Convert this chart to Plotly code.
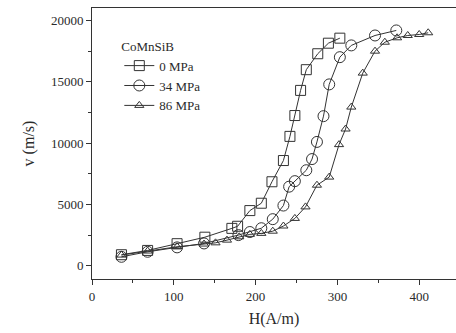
import plotly.graph_objects as go

# 0 MPa (squares)
h0 = [36, 68, 104, 138, 171, 178, 193, 207, 220, 234, 242, 248, 255, 262, 276, 289, 303]
v0 = [900, 1250, 1800, 2330, 3050, 3220, 4500, 5100, 6850, 8580, 10550, 12250, 14300, 15990, 17290, 18150, 18560]

# 34 MPa (circles)
h34 = [36, 68, 104, 137, 179, 193, 207, 221, 234, 241, 248, 262, 269, 275, 283, 290, 303, 317, 346, 372]
v34 = [730, 1140, 1500, 1820, 2500, 2750, 3060, 3800, 4910, 6450, 6900, 7790, 8700, 10100, 12200, 14790, 17010, 17970, 18780, 19190]

# 86 MPa (triangles)
h86 = [36, 68, 104, 137, 151, 165, 180, 193, 207, 221, 234, 248, 261, 275, 290, 302, 310, 317, 331, 346, 358, 373, 386, 400, 411]
v86 = [870, 1200, 1550, 1770, 1870, 2090, 2360, 2560, 2640, 2820, 3240, 3860, 4800, 6570, 7230, 9880, 11150, 12940, 15710, 17500, 18230, 18590, 18780, 18860, 19000]

series_names = ["0 MPa", "34 MPa", "86 MPa"]
legend_title = "CoMnSiB"
x_title = "H(A/m)"
y_title = "v (m/s)"

FONT = "Liberation Serif"
LINE = "#333333"

fig = go.Figure()
specs = [
    (h0, v0, series_names[0], "square-open", 10),
    (h34, v34, series_names[1], "circle-open", 11),
    (h86, v86, series_names[2], "triangle-up-open", 8),
]
for hx, vy, name, sym, size in specs:
    fig.add_trace(go.Scatter(
        x=hx, y=vy, name=name, mode="lines+markers",
        line=dict(color=LINE, width=1),
        marker=dict(symbol=sym, size=size, color=LINE, line=dict(color=LINE, width=1)),
    ))

fig.update_layout(
    width=456, height=333,
    margin=dict(l=92, r=0, t=8, b=54),
    paper_bgcolor="white", plot_bgcolor="white",
    font=dict(family=FONT, size=13, color="#2a2a2a"),
    showlegend=True,
    legend=dict(
        title=dict(text=legend_title, font=dict(family=FONT, size=13)),
        x=0.075, y=0.905, xanchor="left", yanchor="top",
        bgcolor="rgba(0,0,0,0)", borderwidth=0,
        font=dict(family=FONT, size=13),
        tracegroupgap=0, itemsizing="trace",
    ),
    xaxis=dict(
        range=[0, 445], tickvals=[0, 100, 200, 300, 400], tickformat="d",
        ticks="outside", ticklen=5, tickcolor=LINE, tickwidth=1,
        minor=dict(tickvals=[50, 150, 250, 350, 450], ticks="outside", ticklen=3, tickcolor=LINE),
        showline=True, linecolor=LINE, linewidth=1, mirror=True,
        showgrid=False, zeroline=False, automargin=False,
        title=dict(text=x_title, standoff=10),
    ),
    yaxis=dict(
        range=[-1080, 21020], tickvals=[0, 5000, 10000, 15000, 20000], tickformat="d",
        ticks="outside", ticklen=5, tickcolor=LINE, tickwidth=1,
        minor=dict(tickvals=[2500, 7500, 12500, 17500], ticks="outside", ticklen=3, tickcolor=LINE),
        showline=True, linecolor=LINE, linewidth=1, mirror=False,
        showgrid=False, zeroline=False, automargin=False,
        title=dict(text=y_title, standoff=12),
    ),
)

fig.write_html(
    "out.html",
    config={"displayModeBar": False},
    post_script="document.body.style.margin='0';document.body.style.overflow='hidden';",
)
